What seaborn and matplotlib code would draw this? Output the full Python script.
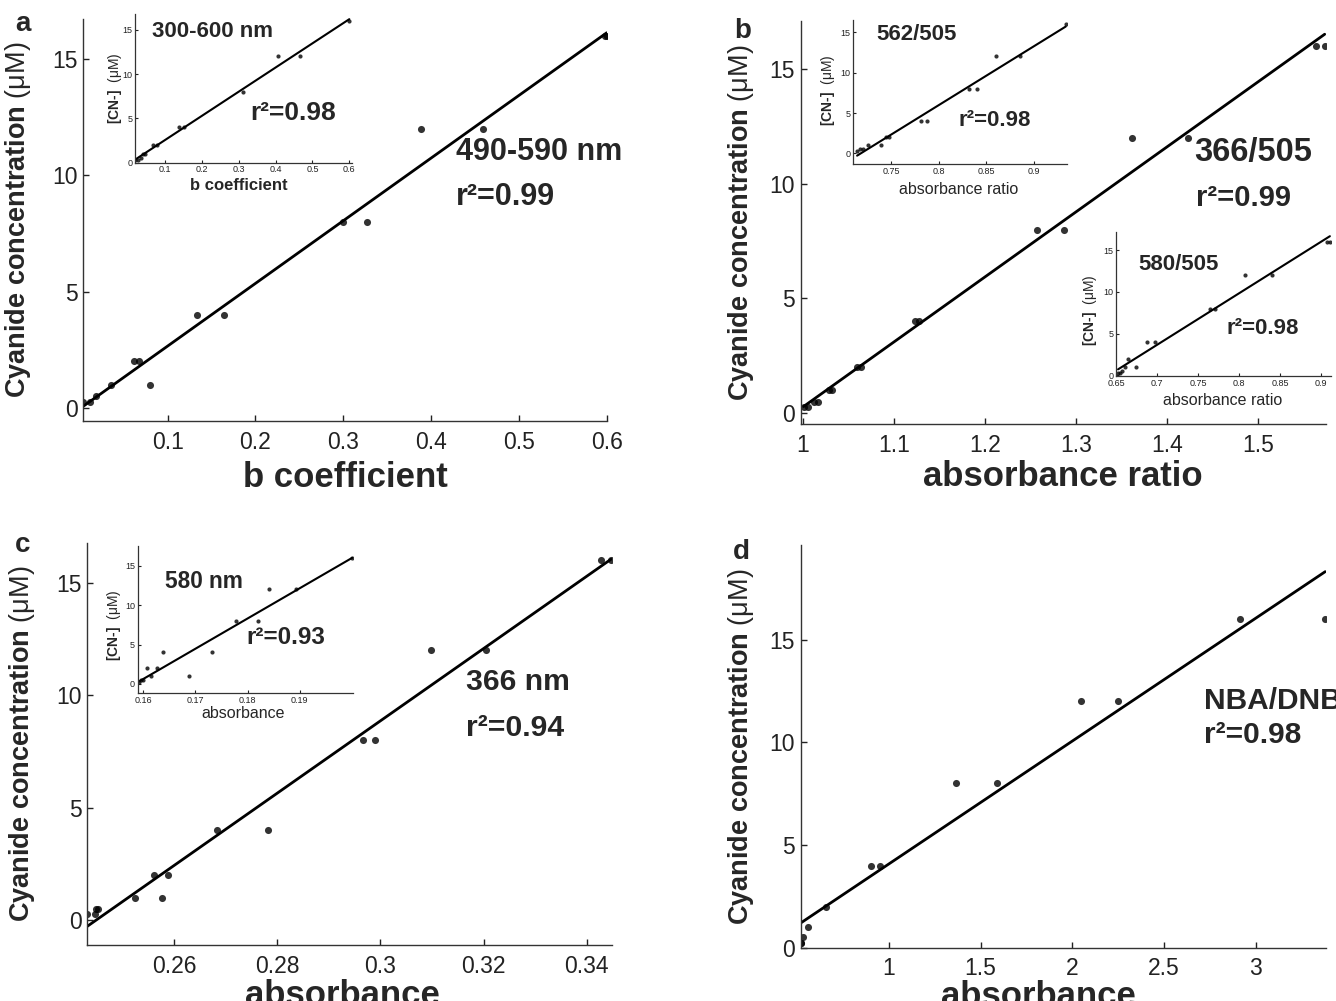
import numpy as np
import matplotlib
matplotlib.use("Agg")
import matplotlib.pyplot as plt
import seaborn as sns

# panel a: 490-590 nm, b coefficient
a_x = [0.004, 0.012, 0.019, 0.035, 0.062, 0.067, 0.080, 0.134, 0.164, 0.300, 0.327, 0.389, 0.459, 0.598, 0.600]
a_y = [0.25, 0.25, 0.5, 1, 2, 2, 1, 4, 4, 8, 8, 12, 12, 16, 16]
# inset a: 300-600 nm
ai_x = [0.019, 0.028, 0.034, 0.041, 0.046, 0.067, 0.078, 0.139, 0.152, 0.312, 0.406, 0.466, 0.600]
ai_y = [0.25, 0.25, 0.5, 1, 1, 2, 2, 4, 4, 8, 12, 12, 16]

# panel b: 366/505 absorbance ratio
b_x = [1.001, 1.006, 1.013, 1.017, 1.029, 1.032, 1.060, 1.064, 1.123, 1.128, 1.257, 1.287, 1.362, 1.423, 1.564, 1.573]
b_y = [0.25, 0.25, 0.5, 0.5, 1, 1, 2, 2, 4, 4, 8, 8, 12, 12, 16, 16]
# inset b1: 562/505
b1_x = [0.714, 0.717, 0.720, 0.726, 0.739, 0.745, 0.748, 0.781, 0.788, 0.832, 0.840, 0.860, 0.886, 0.934]
b1_y = [0.25, 0.5, 0.5, 1, 1, 2, 2, 4, 4, 8, 8, 12, 12, 16]
# inset b2: 580/505
b2_x = [0.652, 0.655, 0.657, 0.660, 0.664, 0.674, 0.688, 0.697, 0.764, 0.770, 0.807, 0.840, 0.907, 0.911]
b2_y = [0.25, 0.25, 0.5, 1, 2, 1, 4, 4, 8, 8, 12, 12, 16, 16]

# panel c: 366 nm absorbance
c_x = [0.2432, 0.2446, 0.2448, 0.2452, 0.2525, 0.2561, 0.2577, 0.2588, 0.2683, 0.2783, 0.2966, 0.2990, 0.3098, 0.3204, 0.3428, 0.3447]
c_y = [0.25, 0.25, 0.5, 0.5, 1, 2, 1, 2, 4, 4, 8, 8, 12, 12, 16, 16]
# inset c: 580 nm
ci_x = [0.1591, 0.1596, 0.1600, 0.1606, 0.1614, 0.1626, 0.1638, 0.1688, 0.1731, 0.1777, 0.1821, 0.1841, 0.1894, 0.2001]
ci_y = [0.25, 0.5, 0.5, 2, 1, 2, 4, 1, 4, 8, 8, 12, 12, 16]

# panel d: NBA/DNB absorbance
d_x = [0.519, 0.522, 0.529, 0.557, 0.654, 0.902, 0.948, 1.363, 1.588, 2.047, 2.251, 2.917, 3.380]
d_y = [0.25, 0.25, 0.5, 1, 2, 4, 4, 8, 8, 12, 12, 16, 16]

y_ticks = [0, 5, 10, 15]

W, H = 1336, 1001

sns.set_style("ticks")
plt.rcParams["font.family"] = ["Liberation Sans", "DejaVu Sans"]
plt.rcParams["mathtext.fontset"] = "custom"
plt.rcParams["mathtext.rm"] = "Liberation Sans"

fig = plt.figure(figsize=(W / 100, H / 100), dpi=100)
fig.patch.set_facecolor("white")


def add_axes(l, t, r, b):
    # pixel box -> figure fraction
    ax = fig.add_axes([l / W, 1 - b / H, (r - l) / W, (b - t) / H])
    ax.patch.set_alpha(0)
    return ax


def put_text(x, y, s, size):
    fig.text(x / W, 1 - y / H, s, fontsize=size, fontweight="bold", ha="left", va="center")


def draw(ax, x, y, xlim, ylim, xticks, xticklabels, main=True):
    sns.regplot(x=np.array(x), y=np.array(y), ax=ax, ci=None, color="k", truncate=True,
                scatter_kws={"s": 26 if main else 9, "linewidths": 0},
                line_kws={"lw": 2.0 if main else 1.5})
    ax.set_xlim(xlim)
    ax.set_ylim(ylim)
    ax.set_xticks(xticks)
    ax.set_xticklabels(xticklabels)
    ax.set_yticks(y_ticks)
    ax.set_yticklabels([str(t) for t in y_ticks])
    sns.despine(ax=ax)
    for sp in ("left", "bottom"):
        ax.spines[sp].set_color("#333333")
        ax.spines[sp].set_linewidth(1.0 if main else 0.9)
    if main:
        ax.tick_params(direction="in", length=4.5, width=1, labelsize=16.5, colors="#222222")
        ax.tick_params(axis="x", pad=7)
        ax.tick_params(axis="y", pad=4)
    else:
        ax.tick_params(direction="in", length=2, width=0.8, labelsize=6.5, pad=2, colors="#222222")


def main_labels(ax, xlabel, xpos, ypos_y, ylab_x):
    ax.set_xlabel(xlabel, fontsize=25, fontweight="bold")
    ax.xaxis.set_label_coords(xpos, ypos_y)
    ax.xaxis.label.set_va("center")
    ax.set_ylabel(r"Cyanide concentration $\mathrm{(μM)}$", fontsize=19.5, fontweight="bold")
    ax.yaxis.set_label_coords(ylab_x, 0.5)
    ax.yaxis.label.set_va("center")


def inset_labels(ax, xlabel, bold, xl, yl):
    ax.set_xlabel(xlabel, fontsize=12 if bold else 11.5, fontweight="bold" if bold else "normal")
    ax.xaxis.set_label_coords(xl[0], xl[1])
    ax.xaxis.label.set_va("center")
    ax.set_ylabel(r"[CN-]  $\mathrm{(μM)}$", fontsize=10, fontweight="bold")
    ax.yaxis.set_label_coords(yl[0], yl[1])
    ax.yaxis.label.set_va("center")


# ---- panel a ----
ax_a = add_axes(83.3, 19, 606.7, 421)
draw(ax_a, a_x, a_y, (0.004, 0.6), (-0.57, 16.73),
     [0.1, 0.2, 0.3, 0.4, 0.5, 0.6], ["0.1", "0.2", "0.3", "0.4", "0.5", "0.6"])
main_labels(ax_a, "b coefficient", 0.5, -0.14, -0.125)

ax_ai = add_axes(135, 14, 351.7, 162.7)
draw(ax_ai, ai_x, ai_y, (0.0186, 0.6065), (0, 16.8),
     [0.1, 0.2, 0.3, 0.4, 0.5, 0.6], ["0.1", "0.2", "0.3", "0.4", "0.5", "0.6"], main=False)
inset_labels(ax_ai, "b coefficient", True, (0.48, -0.15), (-0.092, 0.5))

# ---- panel b ----
ax_b = add_axes(800.8, 21, 1325.6, 424)
draw(ax_b, b_x, b_y, (0.998, 1.574), (-0.48, 17.1),
     [1, 1.1, 1.2, 1.3, 1.4, 1.5], ["1", "1.1", "1.2", "1.3", "1.4", "1.5"])
main_labels(ax_b, "absorbance ratio", 0.5, -0.13, -0.114)

ax_b1 = add_axes(853.3, 20, 1066.7, 164)
draw(ax_b1, b1_x, b1_y, (0.71, 0.935), (-1.3, 16.5),
     [0.75, 0.8, 0.85, 0.9], ["0.75", "0.8", "0.85", "0.9"], main=False)
inset_labels(ax_b1, "absorbance ratio", False, (0.495, -0.18), (-0.119, 0.51))

ax_b2 = add_axes(1116.4, 232, 1330.7, 376)
draw(ax_b2, b2_x, b2_y, (0.65, 0.912), (-0.1, 17.2),
     [0.65, 0.7, 0.75, 0.8, 0.85, 0.9], ["0.65", "0.7", "0.75", "0.8", "0.85", "0.9"], main=False)
inset_labels(ax_b2, "absorbance ratio", False, (0.496, -0.167), (-0.123, 0.46))

# ---- panel c ----
ax_c = add_axes(87.3, 543.3, 612, 945)
draw(ax_c, c_x, c_y, (0.2432, 0.3449), (-1.11, 16.76),
     [0.26, 0.28, 0.3, 0.32, 0.34], ["0.26", "0.28", "0.3", "0.32", "0.34"])
main_labels(ax_c, "absorbance", 0.487, -0.125, -0.124)

ax_ci = add_axes(137.7, 546, 352.7, 693.3)
draw(ax_ci, ci_x, ci_y, (0.1589, 0.2002), (-1.18, 17.5),
     [0.16, 0.17, 0.18, 0.19], ["0.16", "0.17", "0.18", "0.19"], main=False)
inset_labels(ax_ci, "absorbance", False, (0.49, -0.14), (-0.11, 0.46))

# ---- panel d ----
ax_d = add_axes(800.7, 545, 1325.6, 947.7)
draw(ax_d, d_x, d_y, (0.518, 3.382), (0, 19.6),
     [1, 1.5, 2, 2.5, 3], ["1", "1.5", "2", "2.5", "3"])
main_labels(ax_d, "absorbance", 0.452, -0.12, -0.114)

# ---- annotations ----
put_text(456, 152, "490-590 nm", 22)
put_text(456, 197, "r²=0.99", 22)
put_text(151.7, 31.7, "300-600 nm", 16)
put_text(250, 113, "r²=0.98", 19)

put_text(1194, 152, "366/505", 23.5)
put_text(1196, 198, "r²=0.99", 21)
put_text(876.7, 35, "562/505", 16)
put_text(958, 120, "r²=0.98", 16)
put_text(1138.3, 264, "580/505", 16)
put_text(1226.7, 328, "r²=0.98", 16)

put_text(465.5, 682, "366 nm", 21.7)
put_text(465.5, 728, "r²=0.94", 21.7)
put_text(165, 582, "580 nm", 16.3)
put_text(246.7, 637, "r²=0.93", 17.5)

put_text(1204, 701, "NBA/DNB", 21.5)
put_text(1204, 735, "r²=0.98", 21.5)

# panel letters
for lx, ly, letter in [(15, 24, "a"), (734, 31, "b"), (15, 545, "c"), (733, 552, "d")]:
    put_text(lx, ly, letter, 20)

fig.savefig("out.png", dpi=100, facecolor="white")
